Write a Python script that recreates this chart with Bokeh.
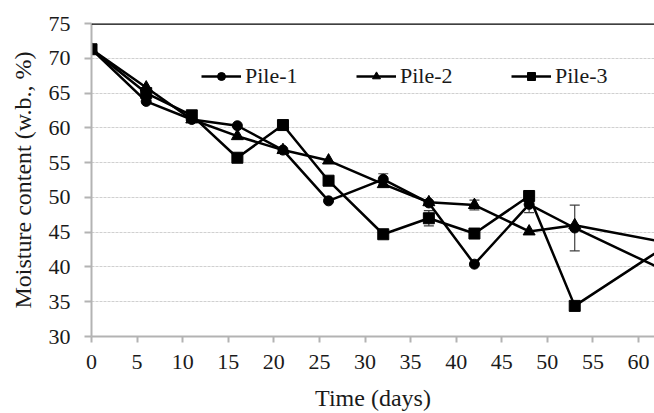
from bokeh.plotting import figure
from bokeh.models import (ColumnDataSource, Range1d, Legend, LegendItem, Span,
                          Whisker, TeeHead, FixedTicker)
from bokeh.embed import file_html
from bokeh.resources import INLINE

# ---- data ----
days = [0, 6, 11, 16, 21, 26, 32, 37, 42, 48, 53, 63]
pile1 = [71.3, 63.8, 61.2, 60.3, 56.8, 49.5, 52.6, 49.2, 40.4, 49.0, 45.6, 39.4]
pile2 = [71.3, 65.8, 61.2, 58.8, 56.8, 55.3, 51.9, 49.3, 48.9, 45.1, 46.0, 43.5]
pile3 = [71.3, 65.0, 61.8, 55.7, 60.4, 52.4, 44.7, 47.0, 44.8, 50.2, 34.4, 43.0]
err1 = [0, 0, 0, 0, 0, 0, 0.8, 0, 0, 1.2, 3.3, 0]
err2 = [0, 0, 0, 0, 0, 0, 0, 0, 0.7, 0, 0, 0]
err3 = [0, 0, 0, 0, 0, 0, 0, 1.1, 0, 0, 0, 0]
series_names = ["Pile-1", "Pile-2", "Pile-3"]
markers = ["circle", "triangle", "square"]
marker_sizes = [10, 12, 11]
x_ticks = [0, 5, 10, 15, 20, 25, 30, 35, 40, 45, 50, 55, 60]
y_ticks = [30, 35, 40, 45, 50, 55, 60, 65, 70, 75]

FONT = "Liberation Serif"

p = figure(width=654, height=413, output_backend="svg", toolbar_location=None,
           x_range=Range1d(0, 61.75), y_range=Range1d(30, 75),
           min_border_left=91, min_border_right=0, min_border_top=23,
           min_border_bottom=77)
p.outline_line_color = None
p.background_fill_color = "white"

# axes
for ax in (p.xaxis[0], p.yaxis[0]):
    ax.axis_line_color = "#b3b3b3"
    ax.axis_line_width = 2
    ax.major_tick_line_color = "#b3b3b3"
    ax.major_tick_line_width = 2
    ax.major_tick_in = 0
    ax.minor_tick_line_color = None
    ax.major_label_text_font = FONT
    ax.major_label_text_font_size = "22px"
    ax.major_label_text_font_style = "normal"
    ax.major_label_text_color = "#1a1a1a"
    ax.axis_label_text_font = FONT
    ax.axis_label_text_font_size = "24px"
    ax.axis_label_text_font_style = "normal"
    ax.axis_label_text_color = "#1a1a1a"

p.xaxis[0].ticker = FixedTicker(ticks=x_ticks)
p.yaxis[0].ticker = FixedTicker(ticks=y_ticks)
p.xaxis[0].major_tick_out = 6
p.yaxis[0].major_tick_out = 7
p.xaxis[0].major_label_standoff = 12
p.yaxis[0].major_label_standoff = 14
p.xaxis[0].axis_label = "Time (days)"
p.yaxis[0].axis_label = "Moisture content (w.b., %)"
p.xaxis[0].axis_label_standoff = 13
p.yaxis[0].axis_label_standoff = 10

p.xgrid.grid_line_color = None
p.ygrid.ticker = FixedTicker(ticks=y_ticks)
p.ygrid.grid_line_color = "#d0d0d0"
p.ygrid.grid_line_dash = "3 1"
p.ygrid.grid_line_width = 1

# top border line
p.add_layout(Span(location=75, dimension="width", line_color="black", line_width=2.5))

items = []
for name, ys, errs, mk, ms in zip(series_names, [pile1, pile2, pile3],
                                   [err1, err2, err3], markers, marker_sizes):
    src = ColumnDataSource(dict(x=days, y=ys))
    ln = p.line("x", "y", source=src, line_color="black", line_width=2.5)
    sc = p.scatter("x", "y", source=src, marker=mk, size=ms,
                   fill_color="black", line_color="black")
    ex = [d for d, e in zip(days, errs) if e > 0]
    eu = [v + e for v, e in zip(ys, errs) if e > 0]
    el = [v - e for v, e in zip(ys, errs) if e > 0]
    if ex:
        esrc = ColumnDataSource(dict(x=ex, upper=eu, lower=el))
        w = Whisker(base="x", upper="upper", lower="lower", source=esrc,
                    line_color="#404040", line_width=1.2,
                    upper_head=TeeHead(size=10, line_color="#404040", line_width=1.2),
                    lower_head=TeeHead(size=10, line_color="#404040", line_width=1.2))
        p.add_layout(w)
    items.append(LegendItem(label=name, renderers=[ln, sc]))

legend = Legend(items=items, orientation="horizontal", location=(110, 247),
                glyph_width=40, glyph_height=20, label_standoff=4,
                label_width=55, spacing=56, padding=0, margin=0,
                border_line_color=None, background_fill_alpha=0,
                label_text_font=FONT, label_text_font_style="normal",
                label_text_font_size="22px",
                label_text_color="#1a1a1a")
p.add_layout(legend)

open("out.html", "w").write(file_html(p, INLINE))
